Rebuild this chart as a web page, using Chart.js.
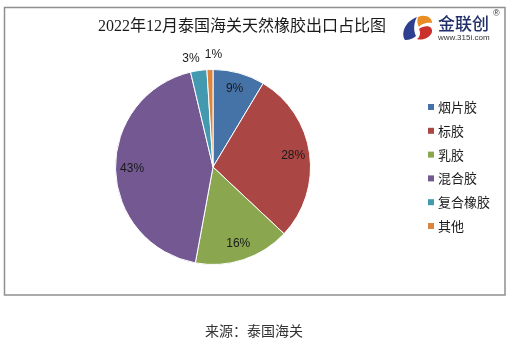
<!DOCTYPE html>
<html>
<head>
<meta charset="utf-8">
<script src="https://cdn.jsdelivr.net/npm/chart.js@4/dist/chart.umd.min.js"></script>
<style>
html,body{margin:0;padding:0;background:#fff;}
#wrap{width:518px;height:345px;position:relative;}
</style>
</head>
<body>
<div id="wrap"><canvas id="c" width="518" height="345"></canvas></div>
<script>
const titleText = '2022年12月泰国海关天然橡胶出口占比图';
const sourceText = '来源：泰国海关';
const categories = ['烟片胶', '标胶', '乳胶', '混合胶', '复合橡胶', '其他'];
const shares = [8.6, 28.4, 15.9, 43.4, 2.7, 1.0];
const shareLabels = ['9%', '28%', '16%', '43%', '3%', '1%'];

const sliceColors = ['#4573A8', '#AA4643', '#8AA74F', '#735892', '#4299B0', '#DC853E'];
const CJK = '"Noto Sans CJK SC", sans-serif';

const framePlugin = {
  id: 'frame',
  beforeDraw(chart) {
    const ctx = chart.ctx;
    ctx.save();
    ctx.fillStyle = '#fff';
    ctx.fillRect(0, 0, chart.width, chart.height);
    ctx.strokeStyle = '#8f8f8f';
    ctx.lineWidth = 1.5;
    ctx.strokeRect(4.5, 7.5, 500.5, 287.5);
    // title
    ctx.fillStyle = '#1a1a1a';
    ctx.font = '16px "Liberation Serif", "Noto Sans CJK SC", serif';
    ctx.textAlign = 'center';
    ctx.textBaseline = 'middle';
    ctx.fillText(titleText, 242, 27);
    // source
    ctx.font = '14px ' + CJK;
    ctx.fillStyle = '#333';
    ctx.fillText(sourceText, 254, 331);
    // logo icon
    ctx.fillStyle = '#2f3f8f';
    ctx.beginPath();
    ctx.moveTo(417, 17);
    ctx.bezierCurveTo(404, 22, 401, 34, 405, 40);
    ctx.bezierCurveTo(410, 40, 414, 38, 416, 36);
    ctx.bezierCurveTo(413, 30, 414, 22, 417, 17);
    ctx.closePath();
    ctx.fill();
    ctx.fillStyle = '#e98d25';
    ctx.beginPath();
    ctx.moveTo(418, 17);
    ctx.bezierCurveTo(425, 14, 432, 17, 432, 23);
    ctx.bezierCurveTo(427, 22, 421, 24, 419, 27);
    ctx.bezierCurveTo(417, 24, 417, 20, 418, 17);
    ctx.closePath();
    ctx.fill();
    ctx.fillStyle = '#c9312a';
    ctx.beginPath();
    ctx.moveTo(419, 29);
    ctx.bezierCurveTo(424, 25, 433, 25, 432, 32);
    ctx.bezierCurveTo(430, 38, 422, 41, 417, 39);
    ctx.bezierCurveTo(420, 37, 421, 33, 419, 29);
    ctx.closePath();
    ctx.fill();
    ctx.fillStyle = '#22306a';
    ctx.font = '500 17px ' + CJK;
    ctx.textAlign = 'left';
    ctx.fillText('金联创', 438, 24);
    ctx.font = '8px "Liberation Sans", sans-serif';
    ctx.fillStyle = '#333';
    ctx.fillText('www.315i.com', 438, 38);
    ctx.font = '9px "Liberation Sans", sans-serif';
    ctx.fillText('®', 493, 14);
    ctx.restore();
  },
  afterDraw(chart) {
    const ctx = chart.ctx;
    const meta = chart.getDatasetMeta(0);
    ctx.save();
    ctx.textAlign = 'center';
    ctx.textBaseline = 'middle';
    ctx.font = '12px "Liberation Sans", sans-serif';
    ctx.fillStyle = '#1a1a1a';
    meta.data.forEach((arc, i) => {
      const p = arc.getProps(['x', 'y', 'startAngle', 'endAngle', 'outerRadius'], true);
      const mid = (p.startAngle + p.endAngle) / 2;
      let r = p.outerRadius * 0.83;
      let dx = 0, dy = 0;
      if (i === 4) { r = p.outerRadius + 12; dx = -6; dy = 0; }
      if (i === 5) { r = p.outerRadius + 13; dx = 4; dy = -2; }
      ctx.fillText(shareLabels[i], p.x + Math.cos(mid) * r + dx, p.y + Math.sin(mid) * r + dy);
    });
    // legend
    ctx.textAlign = 'left';
    ctx.font = '13px ' + CJK;
    categories.forEach((c, i) => {
      const y = 107 + i * 23.8;
      ctx.fillStyle = sliceColors[i];
      ctx.fillRect(428, y - 3, 6, 6);
      ctx.fillStyle = '#1a1a1a';
      ctx.fillText(c, 438, y);
    });
    ctx.restore();
  }
};

new Chart(document.getElementById('c'), {
  type: 'pie',
  data: {
    labels: categories,
    datasets: [{
      data: shares,
      backgroundColor: sliceColors,
      borderColor: '#ffffff',
      borderWidth: 1
    }]
  },
  options: {
    responsive: false,
    animation: false,
    events: [],
    layout: { padding: { left: 115, right: 207, top: 69, bottom: 80 } },
    plugins: {
      legend: { display: false },
      tooltip: { enabled: false },
      title: { display: false }
    }
  },
  plugins: [framePlugin]
});
</script>
</body>
</html>
